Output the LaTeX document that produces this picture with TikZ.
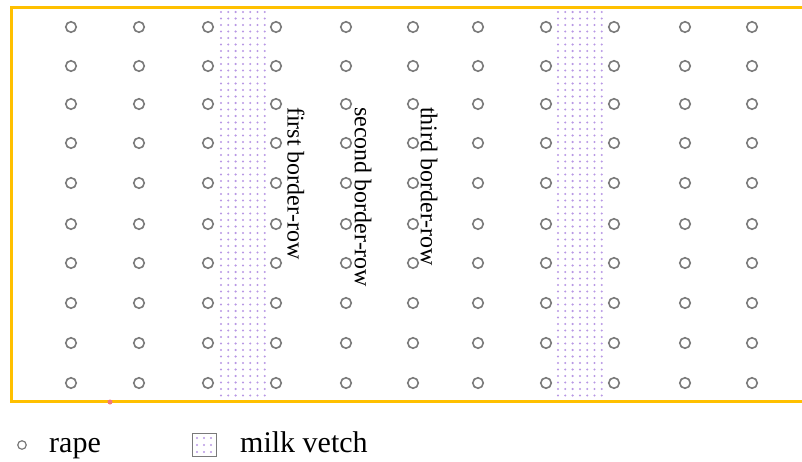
\documentclass[tikz,border=0pt]{standalone}
\usepackage{fontspec}
\setmainfont{Liberation Serif}
\definecolor{borderyellow}{HTML}{FFC000}
\definecolor{vetch}{HTML}{B898E4}
\definecolor{rapegray}{HTML}{7A7A7A}
\definecolor{markred}{HTML}{F27A7A}
\begin{document}
\begin{tikzpicture}[x=1pt,y=-1pt]
\tikzstyle{every node}+=[inner sep=0pt]
\tikzstyle{rape}=[circle,draw=rapegray,line width=1.6pt,minimum size=10.5pt]
\tikzstyle{rowlabel}=[rotate=-90,anchor=west,font=\fontsize{24}{28}\selectfont]
\tikzstyle{legendtext}=[anchor=base west,font=\fontsize{30}{36}\selectfont]
\useasboundingbox (0,0) rectangle (802,462);
% field border
\draw [borderyellow,line width=3pt] (802,7.5) -- (11.5,7.5) -- (11.5,401) -- (802,401);
\fill [markred] (110,402) circle (2.5);
% milk vetch strips
\foreach \sx in {221,558} {
  \foreach \i in {0,...,6} {
    \foreach \j in {0,...,59} {
      \fill [vetch] ({\sx+\i*7.3},{12+\j*6.5}) circle (1.15);
    }
  }
}
% rape plants
\foreach \x [count=\c] in {71,139,208,276,346,413,478,546,614,685,752} {
  \foreach \y [count=\r] in {27,66,104,143,183,224,263,303,343,383} {
    \node [rape] (r\c-\r) at (\x,\y) {};
  }
}
% border-row labels
\node [rowlabel] (first) at (296,107) {first border-row};
\node [rowlabel] (second) at (363,107) {second border-row};
\node [rowlabel] (third) at (429,107) {third border-row};
% legend
\node [rape,minimum size=8.5pt,line width=1.2pt] (legrape) at (22,445) {};
\node [legendtext] (rapetext) at (49,452) {rape};
\draw [rapegray,line width=1pt] (192,433) rectangle (216,456);
\foreach \i in {0,1,2} {
  \foreach \j in {0,1,2} {
    \fill [vetch] ({197+\i*7},{438+\j*7}) circle (1.1);
  }
}
\node [legendtext] (vetchtext) at (240,452) {milk vetch};
\end{tikzpicture}
\end{document}
